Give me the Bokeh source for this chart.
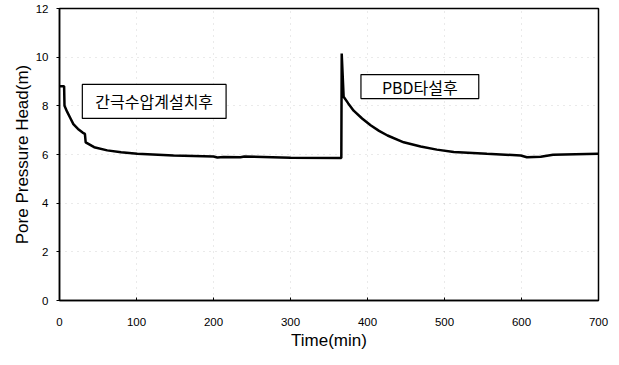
from bokeh.plotting import figure
from bokeh.models import Label, FixedTicker
from bokeh.embed import file_html
from bokeh.resources import INLINE

# data
time_min = [0, 6, 6.5, 10, 14, 18, 24, 30, 33, 34, 45, 62, 80, 101, 148, 200, 205, 213, 235, 240, 300, 366,
            366.5, 369, 375, 382, 393, 404, 415, 426, 447, 469, 490, 512, 555, 599, 607, 625, 641, 670, 700]
head_m = [8.8, 8.8, 8.0, 7.75, 7.5, 7.25, 7.05, 6.9, 6.85, 6.5, 6.3, 6.17, 6.09, 6.03, 5.96, 5.92, 5.88, 5.9, 5.89, 5.92, 5.87, 5.86,
          10.15, 8.37, 8.1, 7.8, 7.48, 7.2, 6.97, 6.78, 6.5, 6.33, 6.2, 6.1, 6.03, 5.96, 5.89, 5.91, 5.99, 6.01, 6.03]
x_ticks = [0, 100, 200, 300, 400, 500, 600, 700]
y_ticks = [0, 2, 4, 6, 8, 10, 12]
notes = ["간극수압계설치후", "PBD타설후"]
note_x = [123, 468]
note_y = [8.18, 8.79]
note_pad = [(13, 5), (21, 0)]

p = figure(width=611, height=357, x_range=(0, 700), y_range=(0, 12),
           output_backend="svg", toolbar_location=None,
           min_border_left=59, min_border_right=13, min_border_top=8, min_border_bottom=57)

p.line(time_min, head_m, line_color="black", line_width=2.5)

for t, xx, yy, pad in zip(notes, note_x, note_y, note_pad):
    p.add_layout(Label(x=xx, y=yy, text=t, text_align="center", text_baseline="middle",
                       text_font="Noto Sans CJK KR", text_font_size="16px", text_color="black",
                       border_line_color="black", border_line_width=1.2,
                       background_fill_color="white", padding=pad))

p.xaxis.ticker = FixedTicker(ticks=x_ticks)
p.yaxis.ticker = FixedTicker(ticks=y_ticks)
for ax in (p.xaxis[0], p.yaxis[0]):
    ax.axis_line_color = "black"
    ax.axis_line_width = 1.5
    ax.major_tick_line_color = "black"
    ax.minor_tick_line_color = None
    ax.major_label_text_font = "Liberation Sans"
    ax.major_label_text_font_size = "11.5px"
    ax.major_label_text_color = "black"
    ax.axis_label_text_font = "Liberation Sans"
    ax.axis_label_text_font_size = "17px"
    ax.axis_label_text_font_style = "normal"
    ax.axis_label_text_color = "black"

p.xaxis.major_tick_in = 3
p.xaxis.major_tick_out = 0
p.yaxis.major_tick_in = 0
p.yaxis.major_tick_out = 3
p.xaxis.major_label_standoff = 17
p.yaxis.major_label_standoff = 8
p.xaxis.axis_label = "Time(min)"
p.yaxis.axis_label = "Pore Pressure Head(m)"
p.xaxis.axis_label_standoff = 2
p.yaxis.axis_label_standoff = 1

p.outline_line_color = "black"
p.outline_line_width = 1.5
p.grid.grid_line_color = "#888888"
p.grid.grid_line_alpha = 0.35
p.grid.grid_line_dash = "1 5"
p.background_fill_color = "white"
p.border_fill_color = "white"

open("out.html", "w").write(file_html(p, INLINE))
